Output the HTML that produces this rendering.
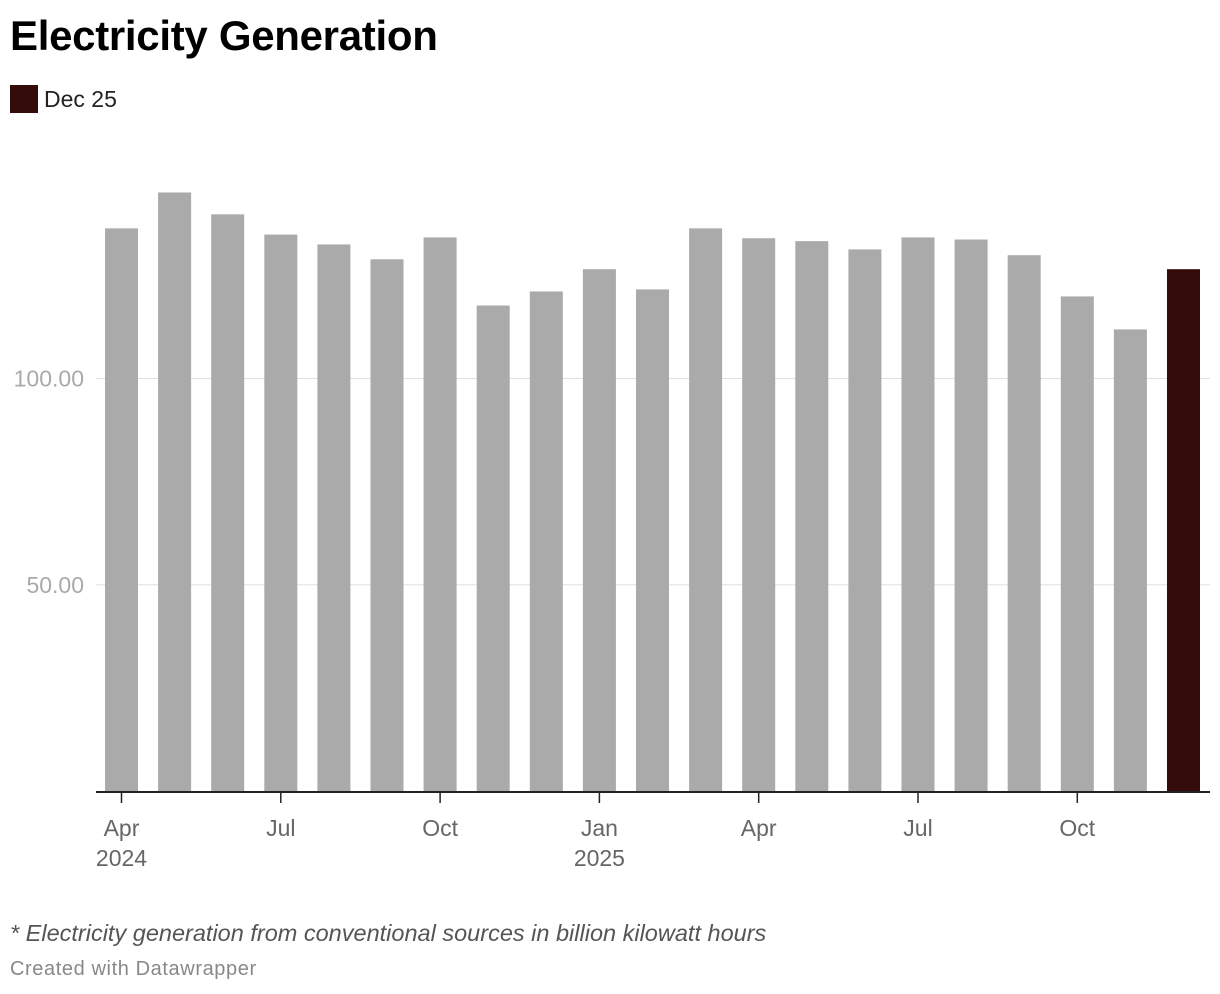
<!DOCTYPE html>
<html><head><meta charset="utf-8"><style>
body{margin:0;background:#fff;font-family:"Liberation Sans",sans-serif;width:1220px;height:994px;overflow:hidden;position:relative}
#title{position:absolute;left:10px;top:12px;font-size:42px;font-weight:bold;color:#000;letter-spacing:-0.3px}
#legend{position:absolute;left:10px;top:85px;font-size:23px;color:#222;display:flex;align-items:center}
#legend span.sw{display:inline-block;width:28px;height:28px;background:#330b0b;margin-right:6px}
#note{position:absolute;left:10px;top:920px;font-size:23.5px;font-style:italic;color:#555}
#credit{position:absolute;left:10px;top:958px;font-size:20px;letter-spacing:0.6px;color:#888}
svg{position:absolute;left:0;top:0}
</style></head><body>
<div id="title">Electricity Generation</div>
<div id="legend"><span class="sw"></span>Dec 25</div>
<svg id="chart" width="1220" height="994"></svg>
<div id="note">* Electricity generation from conventional sources in billion kilowatt hours</div>
<div id="credit">Created with Datawrapper</div>
<script>
const categories=["Apr 2024","May 2024","Jun 2024","Jul 2024","Aug 2024","Sep 2024","Oct 2024","Nov 2024","Dec 2024","Jan 2025","Feb 2025","Mar 2025","Apr 2025","May 2025","Jun 2025","Jul 2025","Aug 2025","Sep 2025","Oct 2025","Nov 2025","Dec 2025"];
const values=[136.4,145.1,139.8,134.9,132.5,128.9,134.2,117.7,121.1,126.5,121.6,136.4,134.0,133.3,131.3,134.2,133.7,129.9,119.9,111.9,126.5];
const yTicks=[50,100];
const yTickLabels=["50.00","100.00"];
const xTickIdx=[0,3,6,9,12,15,18];
const xTickLabels=["Apr","Jul","Oct","Jan","Apr","Jul","Oct"];
const xTickYears=["2024","","","2025","","",""];
const NS="http://www.w3.org/2000/svg";
const svg=document.getElementById('chart');
const y0=791,pxPerUnit=4.125;
const y=v=>y0-v*pxPerUnit;
const x=i=>105+i*53.1;
const bw=33;
function mk(t,a){const e=document.createElementNS(NS,t);for(const k in a)e.setAttribute(k,a[k]);svg.appendChild(e);return e;}
yTicks.forEach((t,i)=>{
  const g=mk('line',{x1:96,x2:1210,y1:y(t),y2:y(t),stroke:'#e0e0e0','stroke-width':1});
  
  
  const l=mk('text',{x:84,y:y(t)+8,'text-anchor':'end','font-size':23,fill:'#aaa','font-family':'Liberation Sans, sans-serif'});
  l.textContent=yTickLabels[i];
  
  
});
values.forEach((v,i)=>{
  const r=mk('rect',{x:x(i),y:y(v),width:bw,height:y0-y(v),fill:i===values.length-1?'#330b0b':'#aaaaaa'});
  
  
});
const ax=mk('line',{x1:96,x2:1210,y1:y0+1,y2:y0+1,stroke:'#222','stroke-width':2});


xTickIdx.forEach((idx,k)=>{
  const cx=x(idx)+bw/2;
  const t=mk('line',{x1:cx,x2:cx,y1:y0+2,y2:y0+12,stroke:'#222','stroke-width':1.5});
  
  
  const l=mk('text',{x:cx,y:836,'text-anchor':'middle','font-size':23,fill:'#666','font-family':'Liberation Sans, sans-serif'});
  l.textContent=xTickLabels[k];
  
  
  if(xTickYears[k]){
    const yl=mk('text',{x:cx,y:866,'text-anchor':'middle','font-size':23,fill:'#666','font-family':'Liberation Sans, sans-serif'});
    yl.textContent=xTickYears[k];
    
    
  }
});
</script>
</body></html>
